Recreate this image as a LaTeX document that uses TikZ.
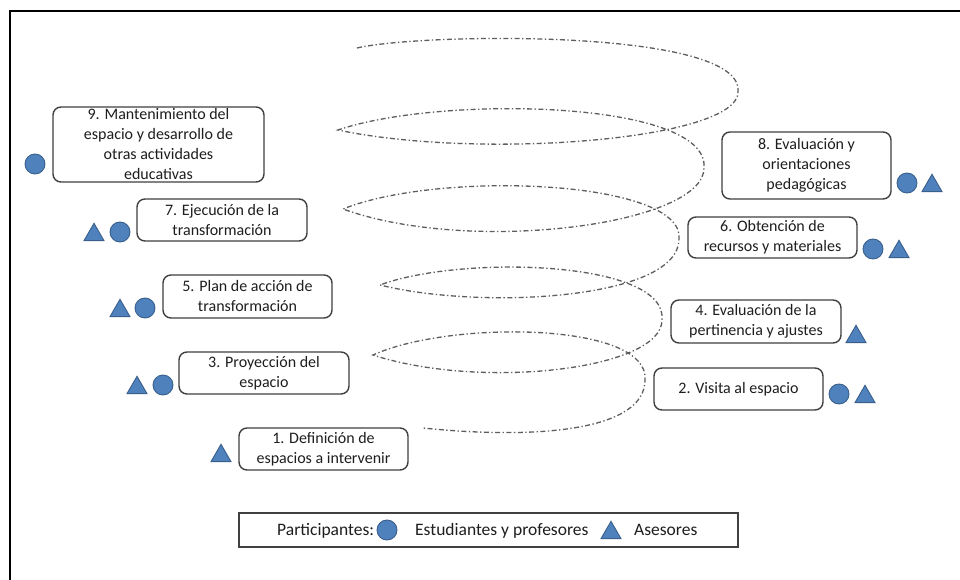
\documentclass[tikz,border=0pt]{standalone}
\usepackage{fontspec}
\setmainfont{Carlito}
\usetikzlibrary{shapes.geometric}

\definecolor{markfill}{HTML}{4F81BD}
\definecolor{markline}{HTML}{3A5F8B}
\definecolor{boxline}{HTML}{404040}
\definecolor{spiralgray}{HTML}{5E5E5E}
\definecolor{ink}{HTML}{1E1E1E}

\tikzset{
  stepbox/.style={draw=boxline, line width=1.4pt, rounded corners=8pt, inner sep=0pt,
                  minimum width=170pt, minimum height=42pt},
  steptext/.style={align=center, text=ink, font=\fontsize{16}{20}\selectfont, inner sep=0pt},
  markdot/.style={circle, fill=markfill, draw=markline, line width=0.9pt,
                  minimum size=20pt, inner sep=0pt},
  marktri/.style={regular polygon, regular polygon sides=3, fill=markfill, draw=markline,
                  line width=0.9pt, minimum size=23pt, inner sep=0pt},
  legendbox/.style={draw=boxline, line width=1.4pt, inner sep=0pt,
                    minimum width=499pt, minimum height=34pt},
  legendtext/.style={anchor=base west, text=ink, font=\fontsize{17.5}{21}\selectfont, inner sep=0pt},
  spiralline/.style={draw=spiralgray, line width=1.3pt,
                     dash pattern=on 5pt off 2.5pt on 1.3pt off 2.5pt},
}

\begin{document}
\begin{tikzpicture}[x=1pt, y=-1pt]
\useasboundingbox (0,0) rectangle (960,580);
\fill[white] (0,0) rectangle (960,580);

% outer frame (open to the right and bottom)
\draw[line width=2.2pt, line cap=rect] (10,580) -- (10,11) -- (960,11);

% the descending spiral of the process
\draw[spiralline] (357,48)
  .. controls (420,33) and (745,28) .. (738,92)
  .. controls (738,140) and (480,160) .. (338,130)
  .. controls (440,95) and (710,100) .. (704,168)
  .. controls (704,225) and (470,255) .. (343,209)
  .. controls (440,170) and (685,180) .. (679,239)
  .. controls (679,300) and (480,310) .. (380,285)
  .. controls (460,255) and (668,260) .. (662,320)
  .. controls (662,370) and (480,390) .. (373,355)
  .. controls (450,320) and (650,322) .. (645,380)
  .. controls (645,430) and (540,440) .. (423,428);

% left column: odd steps
\node[stepbox, minimum width=211pt, minimum height=75pt] (b9) at (158.5,144.5) {};
\node[steptext] (t9) at (b9.center) {9. Mantenimiento del\\espacio y desarrollo de\\otras actividades\\educativas};
\node[markdot] (c9) at (35,164) {};

\node[stepbox] (b7) at (222,220) {};
\node[steptext] (t7) at (b7.center) {7. Ejecución de la\\transformación};
\node[marktri] (a7) at (94,234.8) {};
\node[markdot] (c7) at (120,232) {};

\node[stepbox, minimum width=169pt, minimum height=43pt] (b5) at (247.5,296.5) {};
\node[steptext] (t5) at (b5.center) {5. Plan de acción de\\transformación};
\node[marktri] (a5) at (120,310.8) {};
\node[markdot] (c5) at (145,308) {};

\node[stepbox] (b3) at (264,373) {};
\node[steptext] (t3) at (b3.center) {3. Proyección del\\espacio};
\node[marktri] (a3) at (137,387.8) {};
\node[markdot] (c3) at (163,385) {};

\node[stepbox, minimum width=169pt] (b1) at (323.5,449) {};
\node[steptext] (t1) at (b1.center) {1. Definición de\\espacios a intervenir};
\node[marktri] (a1) at (221,455.8) {};

% right column: even steps
\node[stepbox, minimum width=169pt, minimum height=67pt] (b8) at (806.5,165.5) {};
\node[steptext] (t8) at (b8.center) {8. Evaluación y\\orientaciones\\pedagógicas};
\node[markdot] (c8) at (907,183) {};
\node[marktri] (a8) at (932,185.8) {};

\node[stepbox, minimum width=169pt, minimum height=41pt] (b6) at (772.5,237.5) {};
\node[steptext] (t6) at (b6.center) {6. Obtención de\\recursos y materiales};
\node[markdot] (c6) at (873,249) {};
\node[marktri] (a6) at (899,251.8) {};

\node[stepbox, minimum height=43pt] (b4) at (756,321.5) {};
\node[steptext] (t4) at (b4.center) {4. Evaluación de la\\pertinencia y ajustes};
\node[marktri] (a4) at (856,336.8) {};

\node[stepbox, minimum width=169pt] (b2) at (738.5,389) {};
\node[steptext] (t2) at (b2.center) {2. Visita al espacio};
\node[markdot] (c2) at (839,394) {};
\node[marktri] (a2) at (865,396.8) {};

% legend
\node[legendbox] (leg) at (488.5,530) {};
\node[legendtext] (l1) at (277,535) {Participantes:};
\node[markdot] (lc) at (387,530) {};
\node[legendtext] (l2) at (415,535) {Estudiantes y profesores};
\node[marktri] (lt) at (611,532.8) {};
\node[legendtext] (l3) at (634,535) {Asesores};
\end{tikzpicture}
\end{document}
